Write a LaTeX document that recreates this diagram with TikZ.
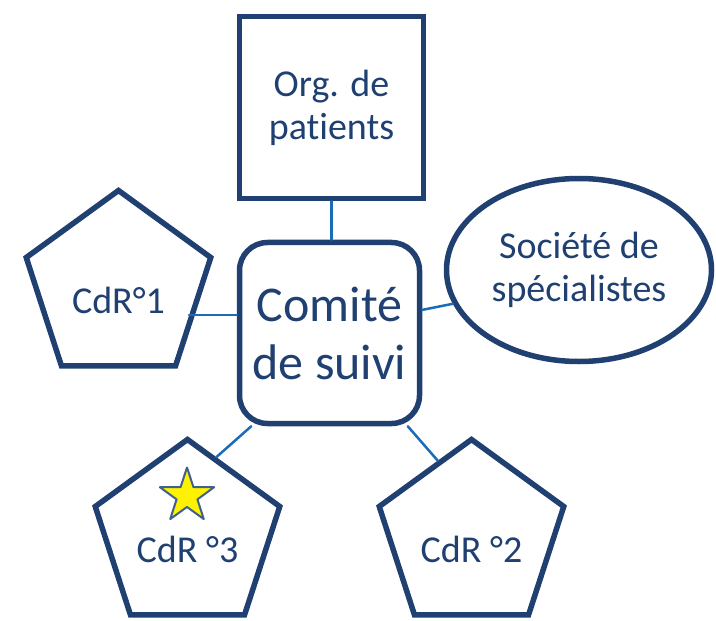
\documentclass[tikz,border=0pt]{standalone}
\usepackage{fontspec}
\setmainfont[Ligatures=NoCommon]{Carlito}
\usetikzlibrary{shapes.geometric}
\definecolor{navy}{RGB}{31,64,112}
\definecolor{bleu}{RGB}{26,108,184}
\definecolor{contour}{RGB}{66,96,140}
\begin{document}
\begin{tikzpicture}[x=1bp, y=-1bp, line cap=round, line join=round,
		boite/.style={draw=navy, line width=5.5bp, line join=miter, fill=white, text=navy, inner sep=0pt, align=center, font={\fontsize{38bp}{43bp}\selectfont}},
		penta/.style={boite, regular polygon, regular polygon sides=5, minimum size=194bp, text height=51bp, text depth=0pt},
		lien/.style={draw=bleu, line width=2.5bp}]
				\useasboundingbox (0,0) rectangle (716,621);
				\node[boite, minimum width=184bp, minimum height=182bp] (org) at (331.5,107.5) {Org. de\\patients};
				\node[boite, rounded corners=28bp, minimum width=180bp, minimum height=181bp, line join=round, font={\fontsize{50bp}{58bp}\selectfont}] (comite) at (329.5,333) {Comité\\de suivi};
				\node[boite, ellipse, minimum width=265bp, minimum height=183bp] (soc) at (579,270) {Société de\\spécialistes};
				\node[penta] (cdr1) at (118.5,287.5) {CdR°1};
				\node[penta] (cdr3) at (187.5,536.5) {CdR °3};
				\node[penta] (cdr2) at (471.5,536.5) {CdR °2};
				\node[star, star points=5, star point ratio=2.6, minimum size=57bp, inner sep=0pt, fill=yellow, draw=contour, line width=2bp] (etoile) at (187,496) {};
				\path (cdr1.center) ++(70.5,27.5) coordinate (c1);
				\draw[lien] (org.south) -- (org.south |- comite.north);
				\draw[lien] (c1) -- (c1 -| comite.west);
				\draw[lien] (comite.14) -- (soc.195);
				\draw[lien] (comite.230) -- (cdr3.70);
				\draw[lien] (comite.310) -- (cdr2.114);
\end{tikzpicture}
\end{document}
